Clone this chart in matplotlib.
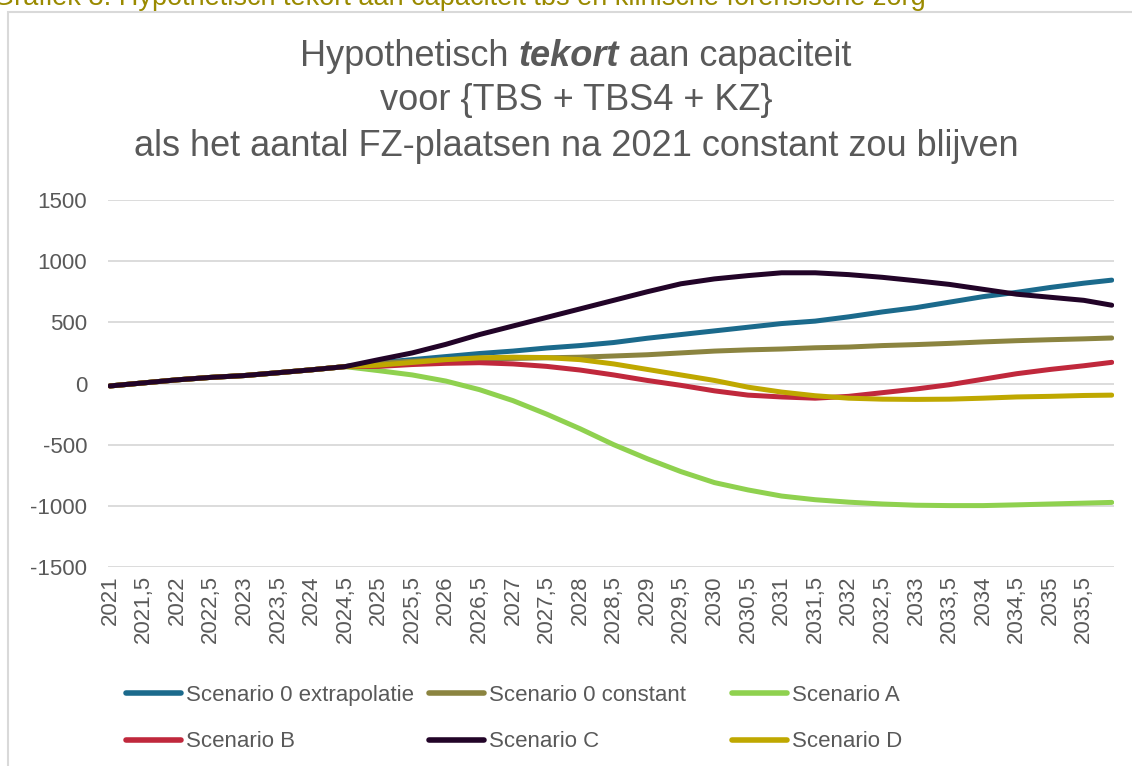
import matplotlib
matplotlib.use("Agg")
import numpy as np
import matplotlib.pyplot as plt
from matplotlib.lines import Line2D
from matplotlib.patches import Rectangle

# half-year samples, last point is the final month (2035 + 11/12)
years = [2021, 2021.5, 2022, 2022.5, 2023, 2023.5, 2024, 2024.5, 2025, 2025.5,
         2026, 2026.5, 2027, 2027.5, 2028, 2028.5, 2029, 2029.5, 2030, 2030.5,
         2031, 2031.5, 2032, 2032.5, 2033, 2033.5, 2034, 2034.5, 2035, 2035.5,
         2035 + 11 / 12]

common = [-20, 5, 30, 50, 65, 88, 112, 138]

s0_extra = common + [170, 195, 220, 245, 265, 290, 310, 335, 370, 400, 430, 460,
                     490, 510, 545, 585, 620, 665, 710, 745, 785, 820, 845]
s0_const = common + [165, 182, 195, 200, 205, 210, 215, 225, 235, 250, 265, 275,
                     282, 292, 298, 310, 318, 328, 340, 350, 358, 365, 372]
scen_a = common + [105, 70, 20, -50, -140, -250, -370, -500, -615, -720, -810, -870,
                   -920, -950, -970, -985, -995, -998, -998, -992, -985, -978, -972]
scen_b = common + [140, 155, 165, 170, 160, 140, 110, 70, 25, -15, -60, -95,
                   -110, -120, -105, -75, -45, -10, 35, 80, 115, 145, 173]
scen_c = common + [195, 250, 320, 400, 470, 540, 610, 680, 750, 815, 855, 882,
                   905, 905, 890, 868, 840, 810, 770, 730, 705, 680, 640]
scen_d = common + [150, 172, 195, 210, 215, 212, 195, 160, 115, 70, 25, -30,
                   -70, -100, -120, -128, -130, -128, -120, -110, -105, -98, -95]

names = ["Scenario 0 extrapolatie", "Scenario 0 constant", "Scenario A",
         "Scenario B", "Scenario C", "Scenario D"]
colors = ["#1b6a8c", "#8b8440", "#8fd14f", "#c0283c", "#220428", "#bfa800"]
series = [s0_extra, s0_const, scen_a, scen_b, scen_c, scen_d]

tick_pos = np.arange(2021, 2036, 0.5)
tick_lab = [(f"{t:.1f}".replace(".", ",") if t % 1 else str(int(t))) for t in tick_pos]

GREY = "#595959"
FONT = "Liberation Sans"
plt.rcParams["font.family"] = [FONT, "DejaVu Sans"]
plt.rcParams["axes.unicode_minus"] = False

fig = plt.figure(figsize=(11.32, 7.66), dpi=100)

# light frame round the chart, and the caption above it (cut off, as in the source)
fig.add_artist(Rectangle((8 / 1132, -0.05), 1.2, 1 - 12 / 766 + 0.05,
                         transform=fig.transFigure, fill=False,
                         edgecolor="#d9d9d9", linewidth=1.5))
fig.text(-0.006, 1.0 + 2 / 766, "Grafiek 3. Hypothetisch tekort aan capaciteit tbs en klinische forensische zorg",
         color="#9a8a00", fontsize=19.5, ha="left", va="center")

ax = fig.add_axes([108 / 1132, 1 - 567 / 766, (1114 - 108) / 1132, (567 - 200) / 766])

order = [0, 1, 2, 3, 5, 4]
for i in order:
    ax.plot(years, series[i], color=colors[i], linewidth=3.6,
            solid_capstyle="round", solid_joinstyle="round", zorder=3)

ax.set_ylim(-1500, 1500)
ax.set_xlim(2021 - 0.03, 2035.95)
ax.set_yticks(np.arange(-1500, 1501, 500))
ax.set_xticks(tick_pos)
ax.set_xticklabels(tick_lab, rotation=90)
ax.grid(axis="y", color="#d9d9d9", linewidth=1.3, zorder=0)
ax.tick_params(length=0, labelsize=16, colors=GREY)
ax.tick_params(axis="y", pad=15)
ax.tick_params(axis="x", pad=6)
for s in ax.spines.values():
    s.set_visible(False)

# title, first line has a bold italic word
title_kw = dict(fontsize=26, color=GREY, va="center")
pieces = [("Hypothetisch ", {}), ("tekort", dict(fontweight="bold", fontstyle="italic")),
          (" aan capaciteit", {})]
fig.canvas.draw()
r = fig.canvas.get_renderer()
texts = [fig.text(0, 1 - 56 / 766, s, **title_kw, **kw) for s, kw in pieces]
widths = [t.get_window_extent(r).width for t in texts]
x = 576 - sum(widths) / 2
for t, w in zip(texts, widths):
    t.set_x(x / 1132)
    x += w
fig.text(576 / 1132, 1 - 101 / 766, "voor {TBS + TBS4 + KZ}", ha="center", **title_kw)
fig.text(576 / 1132, 1 - 147 / 766, "als het aantal FZ-plaatsen na 2021 constant zou blijven",
         ha="center", **title_kw)

# legend: three columns of two entries
for col in range(3):
    idx = [col, col + 3]
    handles = [Line2D([], [], color=colors[i], linewidth=4, solid_capstyle="round") for i in idx]
    fig.legend(handles, [names[i] for i in idx], loc="upper left",
               bbox_to_anchor=((127 + 303 * col - 10) / 1132, 1 - 676 / 766),
               frameon=False, fontsize=16, labelcolor=GREY, handlelength=2.5,
               handletextpad=0.2, labelspacing=1.15, borderaxespad=0)

fig.savefig("out.png", dpi=100)
